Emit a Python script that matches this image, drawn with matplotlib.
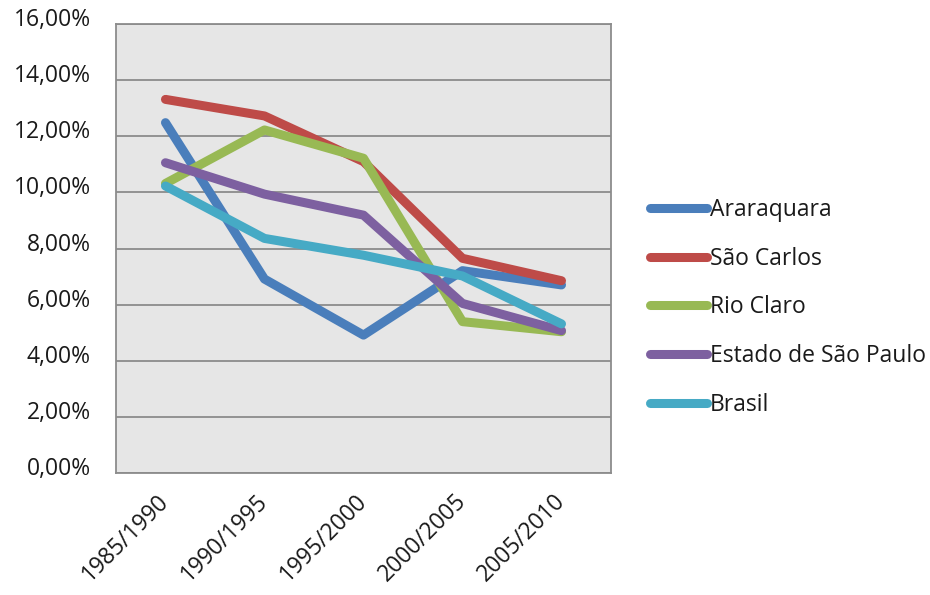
import matplotlib
matplotlib.use("Agg")
import matplotlib.pyplot as plt
from matplotlib.transforms import ScaledTranslation
from matplotlib.ticker import FuncFormatter

plt.rcParams['font.family'] = ['Open Sans', 'DejaVu Sans']

periods = ["1985/1990", "1990/1995", "1995/2000", "2000/2005", "2005/2010"]
series_names = ["Araraquara", "São Carlos", "Rio Claro", "Estado de São Paulo", "Brasil"]
araraquara = [12.49, 6.91, 4.91, 7.21, 6.70]
sao_carlos = [13.32, 12.73, 11.10, 7.65, 6.85]
rio_claro = [10.32, 12.23, 11.22, 5.39, 5.03]
estado_sp = [11.06, 9.94, 9.19, 6.04, 5.07]
brasil = [10.23, 8.36, 7.76, 7.02, 5.31]
colors = ["#4A7EBB", "#BE4B48", "#98B954", "#7D60A0", "#46AAC5"]

fig = plt.figure(figsize=(9.3, 5.95), dpi=100)
ax = fig.add_axes([0.1247, 0.2055, 0.5323, 0.7537])
ax.set_facecolor("#E6E6E6")

x = list(range(len(periods)))
for vals, name, c in zip([araraquara, sao_carlos, rio_claro, estado_sp, brasil],
                         series_names, colors):
    ax.plot(x, vals, color=c, lw=6.5, label=name,
            solid_capstyle='round', solid_joinstyle='round')

ax.set_xlim(-0.5, 4.5)
ax.set_ylim(0, 16)
ax.set_yticks(range(0, 17, 2))
ax.yaxis.set_major_formatter(FuncFormatter(lambda v, p: f"{v:.2f}%".replace(".", ",")))
ax.grid(axis='y', color="#8C8C8C", lw=1.3)
ax.set_axisbelow(True)
for s in ax.spines.values():
    s.set_color("#8C8C8C")
    s.set_linewidth(1.3)

ax.set_xticks(x)
ax.set_xticklabels(periods, rotation=45, ha='right', va='center',
                   rotation_mode='anchor')
ax.tick_params(axis='both', length=0, labelsize=16.5, colors="#1a1a1a")
ax.tick_params(axis='y', pad=18)
ax.tick_params(axis='x', pad=18)

shift = ScaledTranslation(0, 7 / 100, fig.dpi_scale_trans)
for lab in ax.get_yticklabels():
    lab.set_transform(lab.get_transform() + shift)

leg = ax.legend(loc='center left', bbox_to_anchor=(0.699, 0.4835),
                bbox_transform=fig.transFigure, frameon=False, fontsize=16.5,
                handlelength=2.5, handletextpad=0.1, labelspacing=1.08,
                borderaxespad=0, borderpad=0)
for t in leg.get_texts():
    t.set_color("#1a1a1a")

fig.savefig("out.png", dpi=100, facecolor="white")
